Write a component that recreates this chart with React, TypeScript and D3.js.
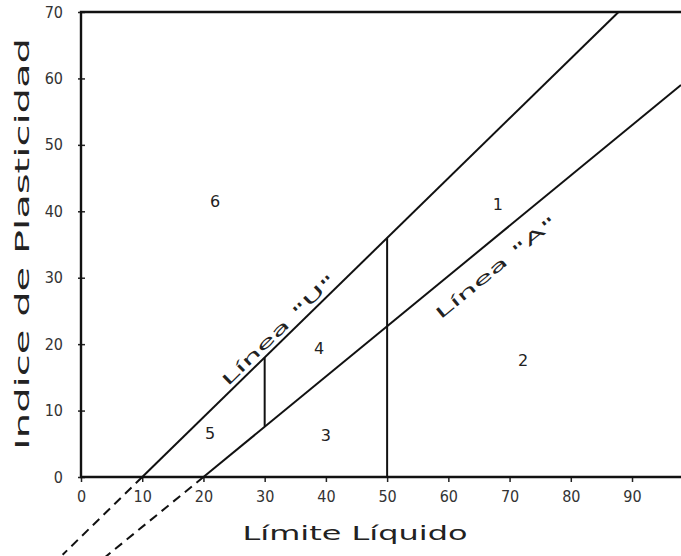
import * as d3 from "d3";
import { useEffect, useRef } from "react";

// points (LL, PI)
const uLine: [number, number][] = [[10, 0], [87.8, 70]];
const aLine: [number, number][] = [[20, 0], [98, 59]];
const uDashed: [number, number][] = [[10, 0], [-3, -11.7]];
const aDashed: [number, number][] = [[20, 0], [3.5, -12.4]];
const dividers: [number, number][][] = [
  [[30, 7.6], [30, 18]],
  [[50, 0], [50, 36]],
];
const zoneLabels = ["6", "1", "2", "4", "5", "3"];
const zoneLL = [21.9, 68.1, 72.2, 38.9, 21.1, 40];
const zonePI = [41.4, 41, 17.6, 19.4, 6.5, 6.2];
const xTicks = [0, 10, 20, 30, 40, 50, 60, 70, 80, 90];
const yTicks = [0, 10, 20, 30, 40, 50, 60, 70];
const lineNames = ['Línea "U"', 'Línea "A"'];
const lineNameLL = [32.3, 67.8];
const lineNamePI = [22.1, 31.5];

export default function App() {
  const width = 681, height = 556;
  const left = 81, top = 12, bottom = 477;
  const x = d3.scaleLinear([0, 98], [left, width]);
  const y = d3.scaleLinear([0, 70], [bottom, top]);
  const gx = useRef<SVGGElement>(null);
  const gy = useRef<SVGGElement>(null);
  const line = d3.line<[number, number]>().x(d => x(d[0])).y(d => y(d[1]));
  const tickFont = "'Liberation Sans Narrow', 'DejaVu Sans Condensed', sans-serif";

  useEffect(() => {
    const ax = d3.select(gx.current!);
    ax.call(d3.axisBottom(x).tickValues(xTicks).tickSize(5).tickPadding(9).tickFormat(d3.format("d")) as any);
    ax.select(".domain").remove();
    ax.selectAll("line").attr("stroke", "#222").attr("stroke-width", 1.5);
    ax.selectAll("text").attr("fill", "#333").style("font-size", "16px").style("font-family", tickFont);
    const ay = d3.select(gy.current!);
    ay.call(d3.axisLeft(y).tickValues(yTicks).tickSize(4).tickPadding(14).tickFormat(d3.format("d")) as any);
    ay.select(".domain").remove();
    ay.selectAll("line").attr("stroke", "#222").attr("stroke-width", 1.5).attr("x2", 4).attr("x1", -3);
    ay.selectAll("text").attr("fill", "#333").style("font-size", "16px").style("font-family", tickFont);
  }, []);

  const uAngle = Math.atan2(y(uLine[1][1]) - y(uLine[0][1]), x(uLine[1][0]) - x(uLine[0][0])) * 180 / Math.PI;
  const aAngle = Math.atan2(y(aLine[1][1]) - y(aLine[0][1]), x(aLine[1][0]) - x(aLine[0][0])) * 180 / Math.PI;
  const angles = [uAngle, aAngle];
  const labelFont = "'DejaVu Sans', Verdana, sans-serif";

  return (
    <svg width={width} height={height} style={{ position: "absolute", left: 0, top: 0, background: "#fff" }}>
      <g ref={gx} transform={`translate(0,${bottom})`} />
      <g ref={gy} transform={`translate(${left},0)`} />
      <path
        d={`M${width},${y(70)}H${left}V${bottom}H${width}`}
        fill="none" stroke="#111" strokeWidth={2.4}
      />
      <g fill="none" stroke="#111" strokeWidth={2}>
        <path d={line(uLine)!} />
        <path d={line(aLine)!} />
        {dividers.map((d, i) => <path key={i} d={line(d)!} />)}
        <path d={line(uDashed)!} strokeDasharray="9,6" />
        <path d={line(aDashed)!} strokeDasharray="9,6" />
      </g>
      <g fontFamily={labelFont} fontSize={16} fill="#222" textAnchor="middle" dominantBaseline="central">
        {zoneLabels.map((l, i) => (
          <text key={l} x={x(zoneLL[i])} y={y(zonePI[i])}>{l}</text>
        ))}
      </g>
      <g fontFamily={labelFont} fontSize={15} fill="#222" textAnchor="middle" dominantBaseline="central">
        {lineNames.map((n, i) => (
          <text key={n} transform={`translate(${x(lineNameLL[i])},${y(lineNamePI[i])}) rotate(${angles[i]})`}
            textLength={152} lengthAdjust="spacingAndGlyphs">{n}</text>
        ))}
      </g>
      <text x={355} y={533} fontFamily={labelFont} fontSize={19} fill="#222" textAnchor="middle"
        dominantBaseline="central" textLength={225} lengthAdjust="spacingAndGlyphs">Límite Líquido</text>
      <text transform={`translate(22,244) rotate(-90)`} fontFamily={labelFont} fontSize={19} fill="#222"
        textAnchor="middle" dominantBaseline="central" textLength={412} lengthAdjust="spacingAndGlyphs">
        Indice de Plasticidad
      </text>
    </svg>
  );
}
